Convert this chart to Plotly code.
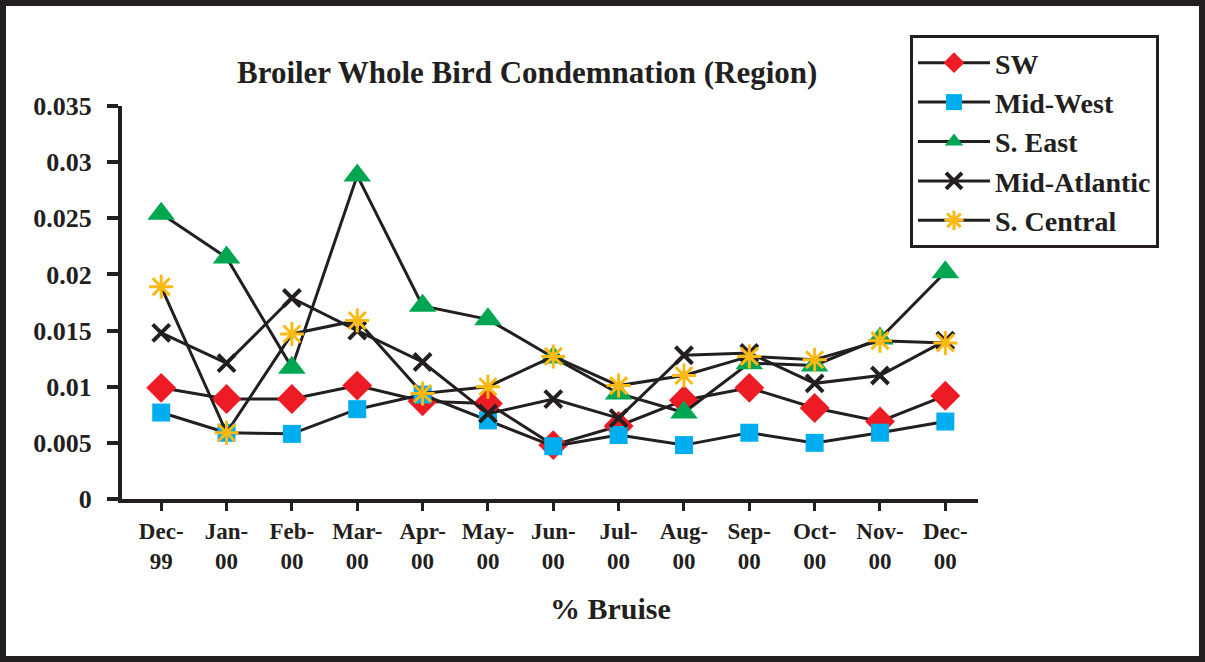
import plotly.graph_objects as go

months = ["Dec-<br>99", "Jan-<br>00", "Feb-<br>00", "Mar-<br>00", "Apr-<br>00", "May-<br>00",
          "Jun-<br>00", "Jul-<br>00", "Aug-<br>00", "Sep-<br>00", "Oct-<br>00", "Nov-<br>00", "Dec-<br>00"]

sw = [0.0099, 0.0089, 0.0089, 0.0101, 0.0087, 0.0085, 0.0048, 0.0065, 0.0088, 0.0099, 0.0081, 0.0069, 0.0092]
mid_west = [0.0077, 0.0059, 0.0058, 0.0080, 0.0093, 0.0070, 0.0047, 0.0057, 0.0048, 0.0059, 0.0050, 0.0059, 0.0069]
s_east = [0.0254, 0.0215, 0.0117, 0.0288, 0.0172, 0.0160, 0.0126, 0.0094, 0.0077, 0.0121, 0.0119, 0.0143, 0.0202]
mid_atlantic = [0.0148, 0.0121, 0.0179, 0.0150, 0.0122, 0.0076, 0.0089, 0.0072, 0.0128, 0.0130, 0.0103, 0.0110, 0.0141]
s_central = [0.0189, 0.0059, 0.0147, 0.0159, 0.0094, 0.0100, 0.0127, 0.0101, 0.0110, 0.0127, 0.0124, 0.0141, 0.0139]

INK = "#231F20"
FONT = "Liberation Serif"
W, H = 1205, 662
L, R, T, B = 122, 978, 106, 499  # plot area in pixels


def px(x):
    return (x - L) / (R - L)


def py(y):
    return (B - y) / (B - T)


series = [
    ("SW", sw, dict(symbol="diamond", size=23, color="#ED1C24")),
    ("Mid-West", mid_west, dict(symbol="square", size=18, color="#00AEEF")),
    ("S. East", s_east, dict(symbol="triangle-up", size=24, color="#00A651")),
    ("Mid-Atlantic", mid_atlantic, dict(symbol="x-thin", size=17, color=INK, line=dict(width=4, color=INK))),
    ("S. Central", s_central, dict(symbol="asterisk", size=20, color="#FDB913", line=dict(width=3, color="#FDB913"))),
]

fig = go.Figure()
for name, vals, marker in series:
    fig.add_trace(go.Scatter(x=list(range(len(months))), y=vals, name=name, mode="lines+markers",
                             line=dict(color=INK, width=3), marker=marker))

fig.update_layout(
    width=W, height=H,
    margin=dict(l=L, r=W - R, t=T, b=H - B),
    plot_bgcolor="white", paper_bgcolor="white",
    font=dict(family=FONT, color=INK),
    showlegend=True,
    legend=dict(x=px(910), y=py(35), xanchor="left", yanchor="top",
                bordercolor=INK, borderwidth=3, bgcolor="white",
                font=dict(family=FONT, size=28, color=INK, weight="bold"),
                itemwidth=72, tracegroupgap=0),
)

fig.update_xaxes(
    tickmode="array", tickvals=list(range(len(months))), ticktext=months,
    range=[-0.6, 12.5], showgrid=False, zeroline=False,
    showline=True, linecolor=INK, linewidth=4,
    ticks="outside", ticklen=8, tickwidth=3, tickcolor=INK,
    tickfont=dict(family=FONT, size=23, color=INK, weight="bold"),
)
fig.update_yaxes(
    range=[0, 0.035], dtick=0.005, tick0=0, showgrid=False, zeroline=False,
    showline=True, linecolor=INK, linewidth=4,
    ticks="outside", ticklen=11, tickwidth=4, tickcolor=INK, ticklabelstandoff=10,
    tickfont=dict(family=FONT, size=26, color=INK, weight="bold"),
)

fig.add_annotation(x=px(527), y=py(73), xref="paper", yref="paper", showarrow=False,
                   xanchor="center", yanchor="middle",
                   text="Broiler Whole Bird Condemnation (Region)",
                   font=dict(family=FONT, size=31, color=INK, weight="bold"))
fig.add_annotation(x=px(610), y=py(608), xref="paper", yref="paper", showarrow=False,
                   xanchor="center", yanchor="middle",
                   text="% Bruise", font=dict(family=FONT, size=30, color=INK, weight="bold"))

# outer frame around the whole picture
fig.add_shape(type="rect", xref="paper", yref="paper",
              x0=px(3), x1=px(1202), y0=py(659), y1=py(3),
              line=dict(color=INK, width=6))

fig.write_html("out.html", config={"displayModeBar": False},
               post_script="document.body.style.margin='0';")
